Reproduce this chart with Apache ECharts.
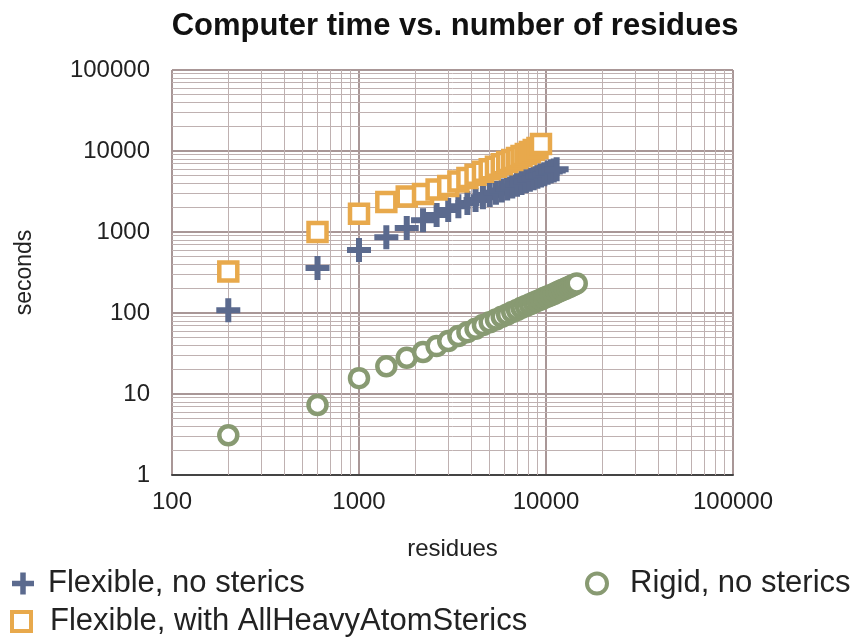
<!DOCTYPE html>
<html>
<head>
<meta charset="utf-8">
<script src="https://cdn.jsdelivr.net/npm/echarts@6/dist/echarts.min.js"></script>
<style>
html,body{margin:0;padding:0;background:#fff;}
#c{width:855px;height:637px;}
</style>
</head>
<body>
<div id="c"></div>
<script>
// ---- data ----
const titleText = 'Computer time vs. number of residues';
const xName = 'residues';
const yName = 'seconds';
const xTicks = [100, 1000, 10000, 100000];
const yTicks = [1, 10, 100, 1000, 10000, 100000];
const minorFactors = [2, 3, 4, 5, 6, 7, 8, 9];

const flexResidues = [200, 600, 1000, 1400, 1800, 2200, 2600, 3000, 3400, 3800, 4200, 4600, 5000, 5400, 5800, 6200, 6600, 7000, 7400, 7800, 8200, 8600, 9000, 9400, 9800, 10200, 10600, 11000, 11400];
const flexSeconds = [108, 360, 600, 860, 1120, 1400, 1620, 1870, 2080, 2280, 2480, 2680, 2870, 3060, 3260, 3450, 3650, 3840, 4030, 4230, 4420, 4620, 4800, 5000, 5180, 5380, 5570, 5760, 5950];

const sterResidues = [200, 600, 1000, 1400, 1800, 2200, 2600, 3000, 3400, 3800, 4200, 4600, 5000, 5400, 5800, 6200, 6600, 7000, 7400, 7800, 8200, 8600, 9000, 9400];
const sterSeconds = [325, 1000, 1680, 2350, 2750, 2950, 3350, 3700, 4200, 4650, 5100, 5550, 5950, 6400, 6850, 7300, 7750, 8200, 8700, 9200, 9750, 10300, 10900, 12200];

const rigidResidues = [200, 600, 1000, 1400, 1800, 2200, 2600, 3000, 3400, 3800, 4200, 4600, 5000, 5400, 5800, 6200, 6600, 7000, 7400, 7800, 8200, 8600, 9000, 9400, 9800, 10200, 10600, 11000, 11400, 11800, 12200, 12600, 13000, 13400, 13800, 14200, 14600];
const rigidSeconds = [3.1, 7.3, 15.7, 22, 28, 33, 39, 45, 52, 58, 64, 71, 77, 83, 90, 96, 103, 109, 116, 122, 128, 135, 141, 147, 154, 160, 166, 172, 179, 185, 192, 198, 205, 211, 218, 224, 232];

const seriesNames = ['Flexible, no sterics', 'Flexible, with AllHeavyAtomSterics', 'Rigid, no sterics'];

// ---- build ----
const FONT = '"Liberation Sans", Arial, Helvetica, sans-serif';
const BLUE = '#5b6a8e', ORANGE = '#e8a94c', GREEN = '#889a72';
const GRID_MAJOR = '#a99797', GRID_MINOR = '#bfb1b1';
const PLUS = 'path://M3.75,0L6.25,0L6.25,3.75L10,3.75L10,6.25L6.25,6.25L6.25,10L3.75,10L3.75,6.25L0,6.25L0,3.75L3.75,3.75Z';

function zip(a, b) { return a.map((v, i) => [v, b[i]]); }

const minorX = [], minorY = [];
xTicks.slice(0, -1).forEach(t => minorFactors.forEach(f => minorX.push({ xAxis: t * f })));
yTicks.slice(0, -1).forEach(t => minorFactors.forEach(f => minorY.push({ yAxis: t * f })));

const chart = echarts.init(document.getElementById('c'), null, { renderer: 'canvas' });
const labelFmt = v => String(Math.round(v));
const legendText = pad => ({ fontFamily: FONT, fontSize: 31, color: '#222', padding: [0, 0, 0, pad] });

chart.setOption({
  animation: false,
  backgroundColor: '#fff',
  title: {
    text: titleText, left: 450, top: 6, textAlign: 'center',
    textStyle: { fontFamily: FONT, fontSize: 31, fontWeight: 'bold', color: '#111' }
  },
  grid: { left: 172, right: 122, top: 70, bottom: 162, containLabel: false, show: false },
  xAxis: {
    type: 'log', logBase: 10, min: 100, max: 100000,
    name: xName, nameLocation: 'middle', nameGap: 62,
    nameTextStyle: { fontFamily: FONT, fontSize: 24, color: '#222' },
    axisLine: { show: true, lineStyle: { color: '#444', width: 2 } },
    axisTick: { show: false },
    axisLabel: { fontFamily: FONT, fontSize: 24, color: '#222', margin: 15, formatter: labelFmt },
    splitLine: { show: true, lineStyle: { color: GRID_MAJOR, width: 2 } }
  },
  yAxis: {
    type: 'log', logBase: 10, min: 1, max: 100000,
    name: yName, nameLocation: 'middle', nameGap: 136, nameRotate: 90,
    nameTextStyle: { fontFamily: FONT, fontSize: 23, color: '#222' },
    axisLine: { show: false },
    axisTick: { show: false },
    axisLabel: { fontFamily: FONT, fontSize: 24, color: '#222', margin: 22, formatter: labelFmt },
    splitLine: { show: true, lineStyle: { color: GRID_MAJOR, width: 2 } }
  },
  legend: [
    { data: [seriesNames[0]], left: 12, top: 568, padding: 0, itemWidth: 22, itemHeight: 22,
      textStyle: legendText(9) },
    { data: [seriesNames[1]], left: 10, top: 606, padding: 0, itemWidth: 19, itemHeight: 19,
      itemStyle: { borderWidth: 4 },
      textStyle: legendText(14) },
    { data: [seriesNames[2]], left: 585, top: 568, padding: 0, itemWidth: 20, itemHeight: 20,
      itemStyle: { borderWidth: 4 },
      textStyle: legendText(18) }
  ],
  series: [
    {
      name: '_grid', type: 'scatter', data: [], silent: true, z: 1,
      markLine: {
        silent: true, symbol: 'none', label: { show: false }, z: 1,
        lineStyle: { color: GRID_MINOR, width: 1, type: 'solid' },
        emphasis: { disabled: true },
        data: minorX.concat(minorY)
      }
    },
    {
      name: seriesNames[2], type: 'scatter', symbol: 'circle', symbolSize: 18, z: 5,
      itemStyle: { color: '#fff', borderColor: GREEN, borderWidth: 4.5, opacity: 1 },
      data: zip(rigidResidues, rigidSeconds)
    },
    {
      name: seriesNames[0], type: 'scatter', symbol: PLUS, symbolSize: 24, z: 5,
      itemStyle: { color: BLUE, opacity: 1 },
      data: zip(flexResidues, flexSeconds)
    },
    {
      name: seriesNames[1], type: 'scatter', symbol: 'rect', symbolSize: 18, z: 6,
      itemStyle: { color: '#fff', borderColor: ORANGE, borderWidth: 4.5, opacity: 1 },
      data: zip(sterResidues, sterSeconds)
    }
  ]
});
</script>
</body>
</html>
